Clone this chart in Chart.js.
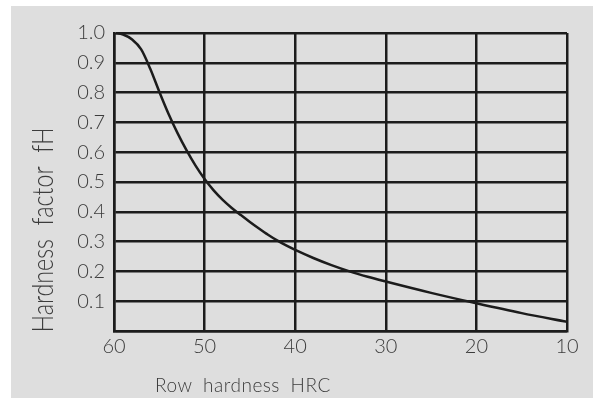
<!DOCTYPE html>
<html>
<head>
<meta charset="utf-8">
<script src="https://cdn.jsdelivr.net/npm/chart.js@4/dist/chart.umd.min.js"></script>
<style>
    body { margin: 0; background: #ffffff; }
    #panel {
        position: absolute;
        left: 11px;
        top: 6px;
        width: 582px;
        height: 392px;
        background: #dedede;
    }
</style>
</head>
<body>
<div id="panel">
    <canvas id="hardnessChart" width="582" height="392"></canvas>
</div>
<script>
// Hardness factor fH versus raceway hardness (HRC)
const hardnessHRC = [60, 59, 58, 57, 56, 55, 54, 53, 52, 51, 50, 49, 48, 47, 46, 45, 44, 43, 42, 41, 40, 38, 36, 34, 32, 30, 25, 20, 15, 10];
const hardnessFactor = [1.0, 0.995, 0.978, 0.945, 0.88, 0.803, 0.73, 0.665, 0.607, 0.555, 0.51, 0.472, 0.44, 0.413, 0.389, 0.366, 0.344, 0.323, 0.304, 0.287, 0.272, 0.245, 0.221, 0.2, 0.182, 0.166, 0.128, 0.093, 0.06, 0.031];
const xTitle = 'Row hardness HRC';
const yTitle = 'Hardness factor fH';

const inkColor = '#1c1c1c';
const textColor = '#3c3c3c';
const fontFamily = 'Lato, "Open Sans", "DejaVu Sans", sans-serif';

/**
 * Draw both axis captions (the y one is condensed like the original)
 */
const axisCaptions = {
    id: 'axisCaptions',
    afterDraw(chart) {
        const ctx = chart.ctx;
        const area = chart.chartArea;

        // y caption, rotated
        ctx.save();
        ctx.fillStyle = textColor;
        ctx.font = '300 29px ' + fontFamily;
        ctx.textAlign = 'center';
        ctx.textBaseline = 'alphabetic';
        ctx.wordSpacing = '9px';
        ctx.translate(area.left - 61, (area.top + area.bottom) / 2 + 48);
        ctx.rotate(-Math.PI / 2);
        const yw = ctx.measureText(yTitle).width;
        ctx.scale(205 / yw, 1);
        ctx.fillText(yTitle, 0, 0);
        ctx.restore();

        // x caption, left of centre
        ctx.save();
        ctx.fillStyle = textColor;
        ctx.font = '300 19px ' + fontFamily;
        ctx.textAlign = 'left';
        ctx.textBaseline = 'alphabetic';
        ctx.wordSpacing = '5px';
        ctx.letterSpacing = '0.5px';
        ctx.fillText(xTitle, area.left + 41, area.bottom + 61);
        ctx.restore();
    }
};

const ctx = document.getElementById('hardnessChart');

new Chart(ctx, {
    type: 'line',
    data: {
        datasets: [{
            data: hardnessHRC.map((h, i) => ({ x: h, y: hardnessFactor[i] })),
            borderColor: inkColor,
            borderWidth: 2.5,
            pointRadius: 0,
            fill: false,
            cubicInterpolationMode: 'monotone'
        }]
    },
    options: {
        responsive: false,
        animation: false,
        layout: {
            padding: { top: 27, right: 26, left: 0, bottom: 0 }
        },
        plugins: {
            legend: { display: false },
            tooltip: { enabled: false }
        },
        scales: {
            x: {
                type: 'linear',
                reverse: true,
                min: 10,
                max: 60,
                afterFit: function(scale) { scale.height = 67; },
                ticks: {
                    stepSize: 10,
                    color: textColor,
                    padding: 4,
                    font: { family: fontFamily, size: 20, weight: '300' }
                },
                grid: {
                    color: inkColor,
                    lineWidth: 2.5,
                    drawTicks: false
                },
                border: { color: inkColor, width: 2.5 }
            },
            y: {
                min: 0,
                max: 1,
                afterFit: function(scale) { scale.width = 103; },
                ticks: {
                    stepSize: 0.1,
                    color: textColor,
                    padding: 9,
                    font: { family: fontFamily, size: 20, weight: '300' },
                    callback: function(value) {
                        return value === 0 ? '' : value.toFixed(1);
                    }
                },
                grid: {
                    color: inkColor,
                    lineWidth: 2.5,
                    drawTicks: false
                },
                border: { color: inkColor, width: 2.5 }
            }
        }
    },
    plugins: [axisCaptions]
});
</script>
</body>
</html>
